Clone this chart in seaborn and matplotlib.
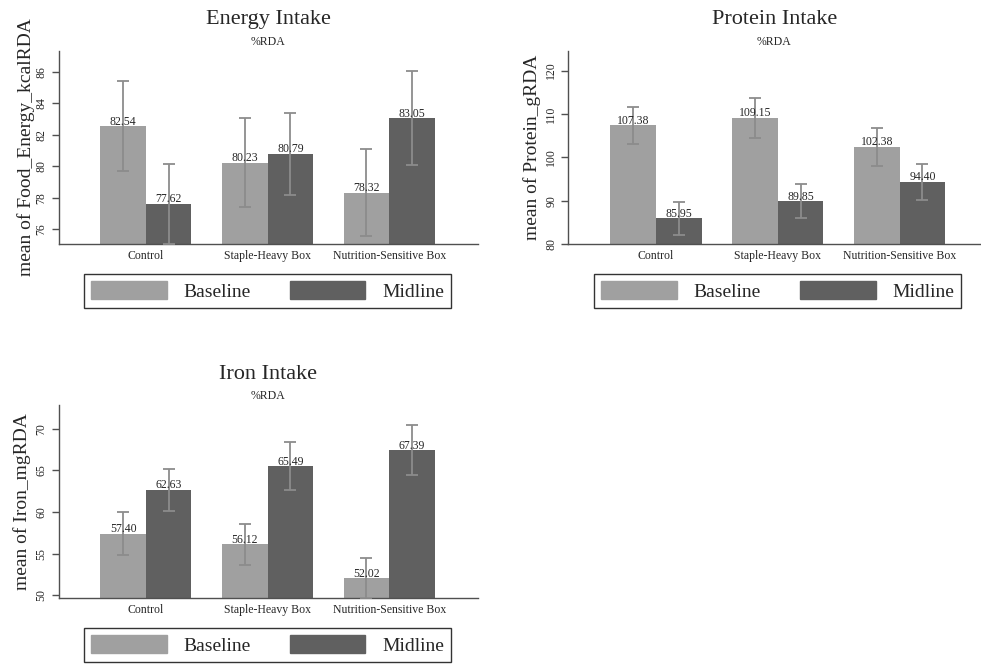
import matplotlib
matplotlib.use("Agg")
import matplotlib.pyplot as plt
import numpy as np
import pandas as pd
import seaborn as sns

# ---- data ----
groups = ["Control", "Staple-Heavy Box", "Nutrition-Sensitive Box"]
rounds = ["Baseline", "Midline"]

energy_base = [82.54, 80.23, 78.32]
energy_mid = [77.62, 80.79, 83.05]
energy_base_ci = [2.86, 2.80, 2.76]
energy_mid_ci = [2.52, 2.60, 3.00]

protein_base = [107.38, 109.15, 102.38]
protein_mid = [85.95, 89.85, 94.40]
protein_base_ci = [4.23, 4.58, 4.47]
protein_mid_ci = [3.77, 3.92, 4.16]

iron_base = [57.40, 56.12, 52.02]
iron_mid = [62.63, 65.49, 67.39]
iron_base_ci = [2.56, 2.44, 2.42]
iron_mid_ci = [2.56, 2.86, 3.00]

energy_ticks = [76, 78, 80, 82, 84, 86]
protein_ticks = [80, 90, 100, 110, 120]
iron_ticks = [50, 55, 60, 65, 70]

light = "#a0a0a0"
dark = "#606060"
err_col = "#8c8c8c"
spine_col = "#505050"

sns.set_theme(style="white")
plt.rcParams["font.family"] = ["Liberation Serif", "DejaVu Serif"]


def make_df(base, mid):
    return pd.DataFrame({
        "group": groups * 2,
        "round": [rounds[0]] * 3 + [rounds[1]] * 3,
        "value": list(base) + list(mid),
    })


def panel(fig, rect, base, mid, base_ci, mid_ci, title, ylab, ticks, ylim, xlim,
          ylab_x, leg_xy):
    ax = fig.add_axes(rect)
    dt = make_df(base, mid)
    sns.barplot(data=dt, x="group", y="value", hue="round", order=groups,
                hue_order=rounds, palette=[light, dark], width=0.75,
                errorbar=None, saturation=1, linewidth=0, ax=ax, legend=False)
    # error bars at the bar centres seaborn used
    for cont, vals, ci in zip(ax.containers, [base, mid], [base_ci, mid_ci]):
        xs = [p.get_x() + p.get_width() / 2 for p in cont.patches]
        ax.errorbar(xs, vals, yerr=ci, fmt="none", ecolor=err_col,
                    elinewidth=1.3, capsize=4, capthick=1.3, zorder=3)
        ax.bar_label(cont, fmt="%.2f", padding=-1, fontsize=8.5, zorder=4)

    ax.set_xlim(*xlim)
    ax.set_ylim(*ylim)
    ax.set_yticks(ticks)
    ax.tick_params(axis="y", labelrotation=90, labelsize=8.5, length=5,
                   width=1, color=spine_col, pad=3, left=True)
    for lbl in ax.get_yticklabels():
        lbl.set_va("center")
    ax.tick_params(axis="x", labelsize=8.5, length=0, pad=4)
    ax.set_xlabel("")
    ax.set_ylabel(ylab, fontsize=14)
    ax.yaxis.set_label_coords(ylab_x, 0.5)
    for s in ["top", "right"]:
        ax.spines[s].set_visible(False)
    for s in ["left", "bottom"]:
        ax.spines[s].set_color(spine_col)
        ax.spines[s].set_linewidth(1)

    ax.text(0.5, 1.16, title, transform=ax.transAxes, ha="center",
            va="center", fontsize=16)
    ax.text(0.5, 1.045, "%RDA", transform=ax.transAxes, ha="center",
            va="center", fontsize=8.5)

    handles = [plt.Rectangle((0, 0), 1, 1, color=light),
               plt.Rectangle((0, 0), 1, 1, color=dark)]
    leg = fig.legend(handles, rounds, loc="center", bbox_to_anchor=leg_xy,
                     bbox_transform=fig.transFigure, ncol=2, fontsize=14,
                     frameon=True, fancybox=False, handlelength=3.9,
                     handleheight=1.05, handletextpad=0.85,
                     columnspacing=2.0, borderpad=0.35)
    leg.get_frame().set_edgecolor("black")
    leg.get_frame().set_linewidth(1)
    return ax


fig = plt.figure(figsize=(9.81, 6.66), dpi=100)

panel(fig, [0.0598, 0.6336, 0.4274, 0.2903], energy_base, energy_mid,
      energy_base_ci, energy_mid_ci, "Energy Intake",
      "mean of Food_Energy_kcalRDA", energy_ticks, (75.07, 87.33),
      (-0.717, 2.73), -0.057, (0.2727, 0.5631))

panel(fig, [0.5793, 0.6336, 0.4197, 0.2903], protein_base, protein_mid,
      protein_base_ci, protein_mid_ci, "Protein Intake",
      "mean of Protein_gRDA", protein_ticks, (80, 124.6),
      (-0.72, 2.66), -0.066, (0.7926, 0.5631))

panel(fig, [0.0598, 0.1017, 0.4274, 0.2902], iron_base, iron_mid,
      iron_base_ci, iron_mid_ci, "Iron Intake",
      "mean of Iron_mgRDA", iron_ticks, (49.64, 72.84),
      (-0.717, 2.73), -0.067, (0.2727, 0.0315))

fig.savefig("out.png", dpi=100, facecolor="white")
